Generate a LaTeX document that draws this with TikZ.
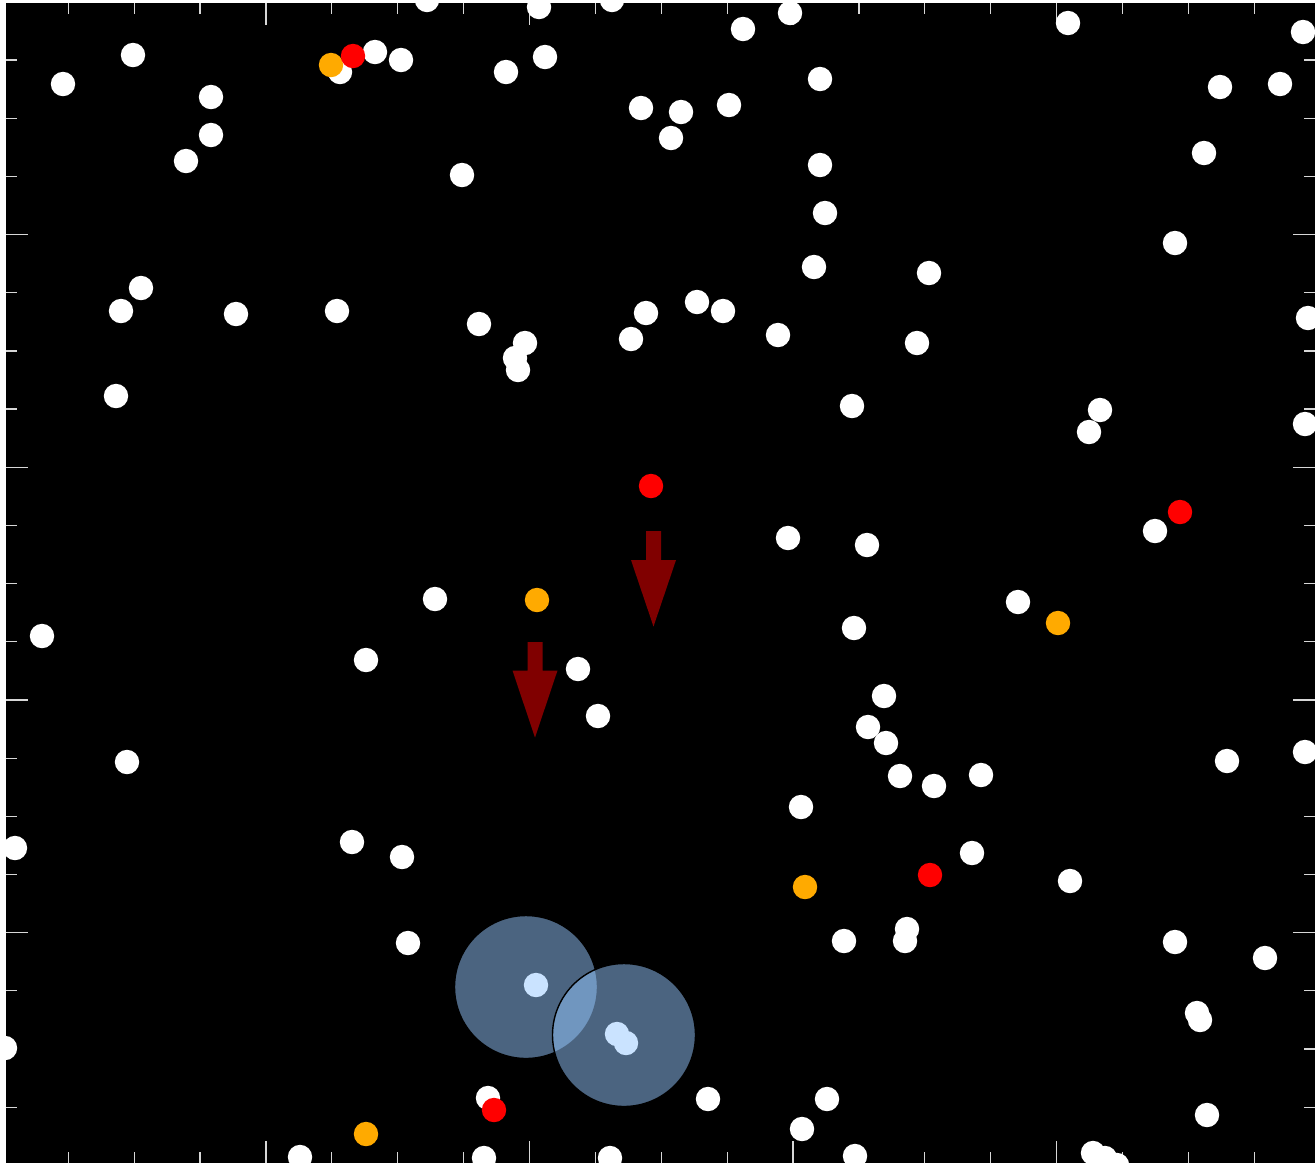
\documentclass[tikz,border=0pt]{standalone}
\definecolor{arrowred}{RGB}{128,0,0}
\definecolor{dotorange}{RGB}{255,170,0}
\definecolor{haloblue}{RGB}{150,200,255}
\definecolor{tickgray}{RGB}{215,215,215}
\tikzset{
  tick/.style={draw=tickgray, line width=0.35pt},
  halo/.style={fill=haloblue, fill opacity=0.5, draw=black, line width=0.4pt},
  droparrow/.style={fill=arrowred},
}
\begin{document}
\begin{tikzpicture}[x=0.01cm, y=-0.01cm]
\useasboundingbox (0,0) rectangle (1315,1163);
\fill[white] (0,0) rectangle (1315,1163);
\fill[black] (6,3) rectangle (1315,1163);
% axis ticks
\foreach \i in {1,...,19} {
  \pgfmathsetmacro{\tx}{2.4+\i*65.89}
  \pgfmathsetmacro{\ty}{1.8+\i*58.18}
  \pgfmathsetmacro{\tl}{ifthenelse(mod(\i,4)==0,22,11)}
  \draw[tick] (\tx,3) -- ++(0,\tl);
  \draw[tick] (\tx,1163) -- ++(0,-\tl);
  \draw[tick] (6,\ty) -- ++(\tl,0);
  \draw[tick] (1315,\ty) -- ++(-\tl,0);
}
% particles
\begin{scope}
\clip (6,3) rectangle (1315,1163);
\foreach \px/\py in {427/0, 539/7, 612/0, 790/13, 1068/23, 1303/32, 743/29,
  133/55, 63/84, 340/72, 375/52, 401/60, 506/72, 545/57, 820/79, 1220/87,
  1280/84, 211/97, 211/135, 186/161, 641/108, 681/112, 729/105, 671/138,
  462/175, 820/165, 1204/153, 825/213, 1175/243, 814/267, 929/273,
  141/288, 121/311, 236/314, 337/311, 479/324, 525/343, 515/358, 518/370,
  631/339, 646/313, 697/302, 723/311, 778/335, 917/343, 1308/318,
  116/396, 852/406, 1100/410, 1089/432, 1305/424, 788/538, 867/545,
  1155/531, 435/599, 1018/602, 42/636, 854/628, 366/660, 578/669,
  884/696, 598/716, 868/727, 886/743, 1305/752, 1227/761, 127/762,
  900/776, 934/786, 981/775, 801/807, 15/848, 352/842, 402/857, 972/853,
  1070/881, 408/943, 844/941, 907/929, 905/941, 1175/942, 1265/958,
  5/1048, 1197/1013, 1200/1020, 488/1098, 708/1099, 827/1099, 1207/1115,
  802/1129, 300/1157, 484/1158, 610/1158, 855/1156, 1093/1153, 1105/1158,
  1117/1165, 536/985, 617/1034, 626/1043}
  \fill[white] (\px,\py) circle (12.2);
\foreach \px/\py in {331/65, 537/600, 1058/623, 805/887, 366/1134}
  \fill[dotorange] (\px,\py) circle (12.2);
\foreach \px/\py in {353/56, 651/486, 1180/512, 930/875, 494/1110}
  \fill[red] (\px,\py) circle (12.2);
\end{scope}
% falling direction
\fill[droparrow] (646,531) -- (661,531) -- (661,560) -- (676,560)
  -- (653.5,626.5) -- (631,560) -- (646,560) -- cycle;
\fill[droparrow] (527.5,642) -- (542.5,642) -- (542.5,670.5) -- (557.5,670.5)
  -- (535,737.5) -- (512.5,670.5) -- (527.5,670.5) -- cycle;
% capture zones
\draw[halo] (526,987) circle (71.5);
\draw[halo] (624,1035) circle (71.5);
\end{tikzpicture}
\end{document}
